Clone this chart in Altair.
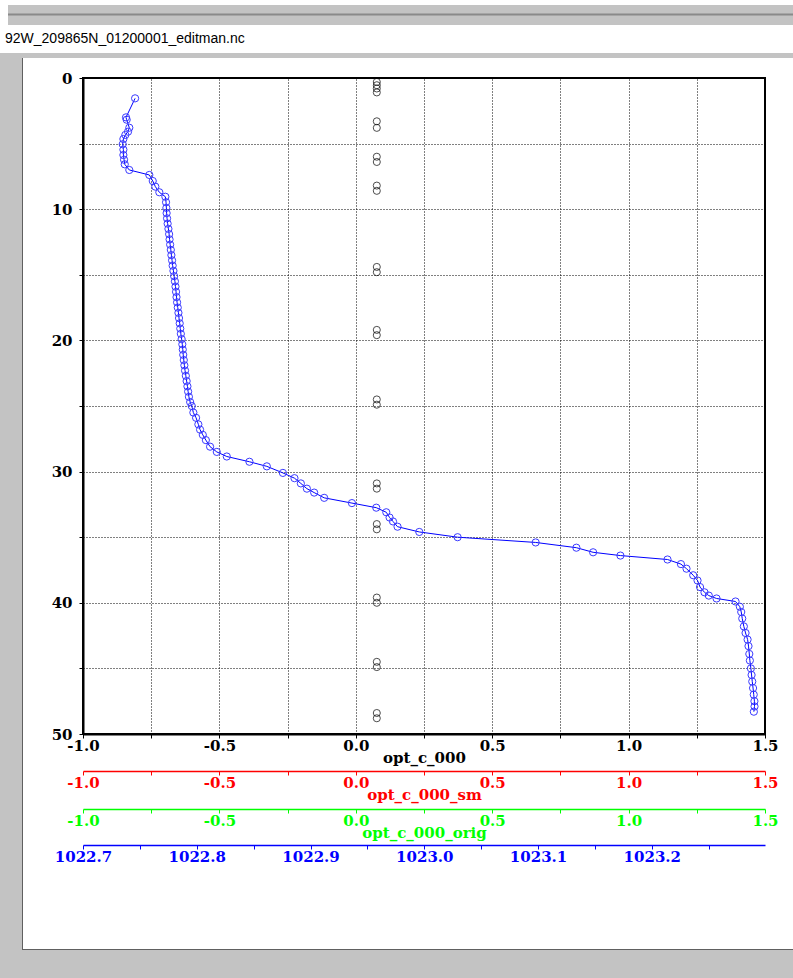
import altair as alt
import pandas as pd

FILE_TITLE = "92W_209865N_01200001_editman.nc"

# blue profile (plotted against the blue density axis)
blue_depth = [1.55, 3.0, 3.18, 3.79, 4.09, 4.34, 4.65, 5.05, 5.46, 5.87, 6.23, 6.58, 7.01,
              7.39, 7.85, 8.28, 8.71, 9.05, 9.47, 9.9, 10.3, 10.7, 11.1, 11.5, 11.9, 12.3,
              12.7, 13.1, 13.5, 13.9, 14.3, 14.7, 15.1, 15.5, 15.9, 16.3, 16.7, 17.1, 17.5,
              17.9, 18.3, 18.7, 19.1, 19.5, 19.9, 20.3, 20.7, 21.1, 21.5, 21.9, 22.3, 22.7,
              23.1, 23.5, 23.9, 24.3, 24.7, 25.0, 25.5, 25.9, 26.4, 26.8, 27.2, 27.6, 28.1,
              28.5, 28.85, 29.25, 29.6, 30.1, 30.5, 30.9, 31.3, 31.6, 32.0, 32.4, 32.75,
              33.1, 33.5, 33.8, 34.2, 34.6, 35.0, 35.4, 35.8, 36.15, 36.4, 36.7, 37.05,
              37.4, 37.9, 38.3, 38.8, 39.2, 39.45, 39.67, 39.9, 40.3, 40.7, 41.2, 41.8,
              42.3, 42.8, 43.3, 43.9, 44.4, 45.0, 45.5, 46.0, 46.5, 47.0, 47.5, 47.9, 48.3]
blue_density = [1022.7458, 1022.7378, 1022.7384, 1022.7407, 1022.7396, 1022.7372, 1022.7355,
                1022.7349, 1022.7355, 1022.7355, 1022.7361, 1022.7367, 1022.7407, 1022.7583,
                1022.7613, 1022.7636, 1022.7671, 1022.7724, 1022.7730, 1022.7733, 1022.7735,
                1022.7739, 1022.7744, 1022.7751, 1022.7757, 1022.7761, 1022.7766, 1022.7772,
                1022.7777, 1022.7783, 1022.7788, 1022.7795, 1022.7801, 1022.7808, 1022.7813,
                1022.7818, 1022.7822, 1022.7827, 1022.7833, 1022.7839, 1022.7844, 1022.7850,
                1022.7855, 1022.7860, 1022.7867, 1022.7873, 1022.7877, 1022.7881, 1022.7886,
                1022.7891, 1022.7897, 1022.7904, 1022.7911, 1022.7918, 1022.7924, 1022.7931,
                1022.7942, 1022.7956, 1022.7970, 1022.7994, 1022.8014, 1022.8029, 1022.8053,
                1022.8080, 1022.8117, 1022.8176, 1022.8264, 1022.8463, 1022.8616, 1022.8757,
                1022.8859, 1022.8915, 1022.8968, 1022.9032, 1022.9120, 1022.9364, 1022.9578,
                1022.9666, 1022.9695, 1022.9725, 1022.9765, 1022.9956, 1023.0293, 1023.0979,
                1023.1337, 1023.1484, 1023.1724, 1023.2138, 1023.2256, 1023.2305, 1023.2364,
                1023.2402, 1023.2424, 1023.2463, 1023.2501, 1023.2569, 1023.2736, 1023.2774,
                1023.2786, 1023.2795, 1023.2809, 1023.2824, 1023.2842, 1023.2850, 1023.2857,
                1023.2862, 1023.2871, 1023.2877, 1023.2883, 1023.2890, 1023.2896, 1023.2902,
                1023.2903, 1023.2897]

# opt_c_000 samples (black circles)
opt_depth = [0.3, 0.55, 0.8, 1.1, 3.3, 3.8, 6.0, 6.4, 8.2, 8.6, 14.4, 14.8, 19.2, 19.6,
             24.5, 24.9, 30.9, 31.3, 34.0, 34.4, 39.6, 40.0, 44.5, 44.9, 48.4, 48.8]
opt_value = [0.077] * len(opt_depth)

opt_ticks = [-1.0, -0.75, -0.5, -0.25, 0.0, 0.25, 0.5, 0.75, 1.0, 1.25, 1.5]
dens_ticks = [1022.70, 1022.75, 1022.80, 1022.85, 1022.90, 1022.95, 1023.00,
              1023.05, 1023.10, 1023.15, 1023.20, 1023.25]
depth_ticks = [0, 5, 10, 15, 20, 25, 30, 35, 40, 45, 50]

W, H = 682, 656
FONT = "DejaVu Serif"
FS = 15
GREY = "#c3c3c3"

blue_df = pd.DataFrame({"depth": blue_depth, "density": blue_density,
                        "idx": list(range(len(blue_depth)))})
opt_df = pd.DataFrame({"depth": opt_depth, "opt": opt_value})
one = pd.DataFrame({"k": [0]})

OPT_LABEL = ("round(datum.value * 4) % 2 == 0 ? "
             "(datum.value < 0 ? '-' : '') + format(abs(datum.value), '.1f') : ''")
DENS_LABEL = "round(datum.value * 100) % 10 == 0 ? format(datum.value, '.1f') : ''"

y_enc = alt.Y(
    "depth:Q",
    scale=alt.Scale(domain=[0, 50], reverse=True, nice=False, zero=False),
    axis=alt.Axis(values=depth_ticks, title=None,
                  labelExpr="datum.value % 10 == 0 ? format(datum.value, 'd') : ''",
                  grid=True, gridColor="black", gridDash=[1, 2], gridOpacity=1,
                  domainColor="black", domainWidth=2, tickColor="black", tickSize=4,
                  labelFont=FONT, labelFontSize=FS, labelFontWeight="bold",
                  labelColor="black", labelPadding=7),
)


def opt_axis(color, offset, title, grid):
    return alt.Axis(orient="bottom", offset=offset, values=opt_ticks, labelExpr=OPT_LABEL,
                    title=title, grid=grid, gridColor="black", gridDash=[1, 2],
                    gridOpacity=1, domainColor=color, domainWidth=2 if grid else 1.5,
                    tickColor=color, tickSize=4, labelColor=color, labelFont=FONT,
                    labelFontSize=FS, labelFontWeight="bold", labelFlush=False,
                    labelOverlap=False, labelPadding=0, titleColor=color,
                    titleFont=FONT, titleFontSize=FS, titleFontWeight="bold",
                    titlePadding=-3)


opt_scale = alt.Scale(domain=[-1.0, 1.5], nice=False, zero=False)

black_layer = alt.Chart(opt_df).mark_point(
    shape="circle", filled=False, size=50, color="black", strokeWidth=1
).encode(x=alt.X("opt:Q", scale=opt_scale, axis=opt_axis("black", 0, "opt_c_000", True)),
         y=y_enc)

red_layer = alt.Chart(opt_df).mark_point(opacity=0).encode(
    x=alt.X("opt:Q", scale=opt_scale, axis=opt_axis("#ff0000", 37, "opt_c_000_sm", False)),
    y=y_enc)

green_layer = alt.Chart(opt_df).mark_point(opacity=0).encode(
    x=alt.X("opt:Q", scale=opt_scale, axis=opt_axis("#00ff00", 75, "opt_c_000_orig", False)),
    y=y_enc)

dens_axis = alt.Axis(orient="bottom", offset=111, values=dens_ticks, labelExpr=DENS_LABEL,
                     title=None, grid=False, domainColor="#0000ff", domainWidth=1.5,
                     tickColor="#0000ff", tickSize=4, labelColor="#0000ff", labelFont=FONT,
                     labelFontSize=FS, labelFontWeight="bold", labelFlush=False,
                     labelOverlap=False, labelPadding=0)

blue_layer = alt.Chart(blue_df).mark_line(
    color="#0000ff", strokeWidth=1,
    point=alt.OverlayMarkDef(shape="circle", filled=False, size=52, stroke="#3a3aff",
                             strokeWidth=1),
).encode(
    x=alt.X("density:Q", scale=alt.Scale(domain=[1022.7, 1023.2995], nice=False, zero=False),
            axis=dens_axis),
    y=y_enc,
    order=alt.Order("idx:Q"),
)


def chrome_rect(x, x2, y, y2, color):
    return alt.Chart(one).mark_rect(color=color).encode(
        x=alt.value(x), x2=alt.value(x2), y=alt.value(y), y2=alt.value(y2))


chrome = [
    chrome_rect(-75, 710, -73, -53, GREY),
    chrome_rect(-75, 710, -64.5, -62.5, "#8a8a8a"),
    chrome_rect(-83, 710, -25, -20, GREY),
    chrome_rect(-83, -61, -25, 900, GREY),
    chrome_rect(-83, 710, 872, 900, GREY),
    chrome_rect(-61, -60, -20, 872, "#606060"),
    chrome_rect(-61, 710, 871, 872, "#606060"),
]

title_text = alt.Chart(one).mark_text(
    align="left", baseline="middle", font="Liberation Sans", fontSize=14, color="black"
).encode(x=alt.value(-78), y=alt.value(-39), text=alt.value(FILE_TITLE))

chart = alt.layer(
    *chrome, title_text, black_layer, red_layer, green_layer, blue_layer
).resolve_scale(x="independent").resolve_axis(x="independent").properties(
    width=W, height=H,
    autosize=alt.AutoSizeParams(type="none"),
    padding={"left": 83, "top": 78, "right": 28, "bottom": 244},
    background="white",
).configure_view(stroke="black", strokeWidth=2)

chart.save("out.html", embed_options={"renderer": "svg", "actions": False})
